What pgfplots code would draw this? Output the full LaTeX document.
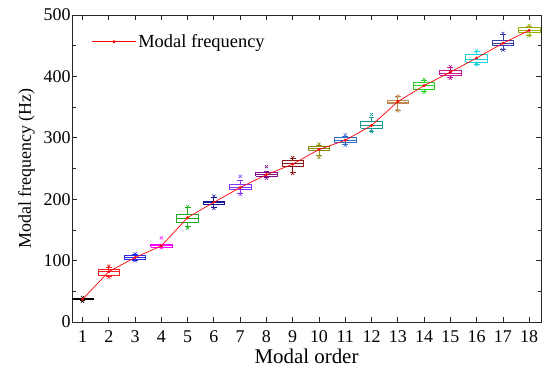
\documentclass[border=0pt]{standalone}
\usepackage{pgfplots}
\pgfplotsset{compat=1.18}
\usepackage{fontspec}
\setmainfont{Liberation Serif}

\definecolor{c1}{RGB}{0,0,0}
\definecolor{c2}{RGB}{255,30,30}
\definecolor{c3}{RGB}{40,40,235}
\definecolor{c4}{RGB}{255,0,255}
\definecolor{c5}{RGB}{30,170,30}
\definecolor{c6}{RGB}{20,20,150}
\definecolor{c7}{RGB}{140,50,255}
\definecolor{c8}{RGB}{130,10,140}
\definecolor{c9}{RGB}{140,25,25}
\definecolor{c10}{RGB}{140,140,10}
\definecolor{c11}{RGB}{50,110,200}
\definecolor{c12}{RGB}{20,150,150}
\definecolor{c13}{RGB}{190,135,80}
\definecolor{c14}{RGB}{40,210,40}
\definecolor{c15}{RGB}{200,20,150}
\definecolor{c16}{RGB}{20,210,215}
\definecolor{c17}{RGB}{60,60,175}
\definecolor{c18}{RGB}{155,175,10}

% one box per modal order:
% #1 position, #2 colour, #3 lower whisker, #4 lower quartile, #5 median,
% #6 upper quartile, #7 upper whisker, #8 lowest sample, #9 highest sample
\newcommand{\modebox}[9]{%
  \pgfmathsetmacro\bxl{#1-0.41}\pgfmathsetmacro\bxr{#1+0.41}%
  \pgfmathsetmacro\wxl{#1-0.11}\pgfmathsetmacro\wxr{#1+0.11}%
  \addplot[forget plot, draw=#2, fill=white, line width=0.8pt, mark=none]
    coordinates {(\bxl,#4) (\bxr,#4) (\bxr,#6) (\bxl,#6) (\bxl,#4)};
  \addplot[forget plot, draw=#2, line width=0.8pt, mark=none]
    coordinates {(\bxl,#5) (\bxr,#5)};
  \addplot[forget plot, draw=#2, line width=0.8pt, mark=none]
    coordinates {(#1,#3) (#1,#4)};
  \addplot[forget plot, draw=#2, line width=0.8pt, mark=none]
    coordinates {(#1,#6) (#1,#7)};
  \addplot[forget plot, draw=#2, line width=0.8pt, mark=none]
    coordinates {(\wxl,#3) (\wxr,#3)};
  \addplot[forget plot, draw=#2, line width=0.8pt, mark=none]
    coordinates {(\wxl,#7) (\wxr,#7)};
  \addplot[forget plot, only marks, mark=x, mark size=2.2pt,
    mark options={draw=#2, line width=0.6pt}]
    coordinates {(#1,#8) (#1,#9)};}

\begin{document}
\begin{tikzpicture}
\useasboundingbox (0bp,0bp) rectangle (545bp,373bp);
\begin{axis}[
  at={(72bp,51bp)}, anchor=south west,
  scale only axis, width=469bp, height=307bp,
  xmin=0.6, xmax=18.45, ymin=0, ymax=500,
  xtick={1,...,18}, ytick={0,100,...,500},
  minor y tick num=1,
  tick align=inside,
  major tick length=5bp, minor tick length=3.5bp,
  axis line style={line width=0.8pt, black!85},
  every tick/.style={black!85, line width=0.8pt},
  /pgf/number format/assume math mode=true,
  ticklabel style={font=\fontsize{18}{18}\selectfont},
  xticklabel style={yshift=-5bp},
  yticklabel style={xshift=2bp},
  xlabel={Modal order},
  ylabel={Modal frequency (Hz)},
  xlabel style={font=\fontsize{21}{21}\selectfont},
  ylabel style={font=\fontsize{18}{18}\selectfont, yshift=2bp},
  legend style={at={(0.035,0.95)}, anchor=north west, draw=none, fill=none,
    font=\fontsize{18.5}{19}\selectfont},
  legend cell align=left,
  legend image code/.code={%
    \draw[#1, mark repeat=2, mark phase=2]
      plot coordinates {(0bp,0bp) (22bp,0bp) (44bp,0bp)};},
]
\modebox{1}{c1}{35}{36}{37}{38}{39}{34}{40}
\modebox{2}{c2}{75}{76}{82}{86}{89}{73}{91}
\modebox{3}{c3}{101}{102}{105}{109}{110}{100}{111}
\modebox{4}{c4}{122}{122}{124}{126}{127}{121}{137}
\modebox{5}{c5}{155}{162}{168}{176}{186}{153}{188}
\modebox{6}{c6}{187}{192}{194}{197}{203}{185}{205}
\modebox{7}{c7}{210}{216}{219}{224}{230}{208}{237}
\modebox{8}{c8}{235}{237}{240}{243}{245}{234}{253}
\modebox{9}{c9}{243}{253}{258}{263}{267}{242}{268}
\modebox{10}{c10}{272}{279}{282}{285.5}{287}{268}{290}
\modebox{11}{c11}{289}{292}{296}{301}{303}{288}{305}
\modebox{12}{c12}{311}{316}{320}{326}{333}{310}{338}
\modebox{13}{c13}{345}{356}{358}{361.5}{367}{344}{368}
\modebox{14}{c14}{375}{379}{385}{390}{393}{374}{395}
\modebox{15}{c15}{398}{402}{405}{410}{414}{397}{416}
\modebox{16}{c16}{420}{423}{428}{436}{440}{419}{442}
\modebox{17}{c17}{444}{451}{454}{458}{469}{443}{470}
\modebox{18}{c18}{467}{472}{475}{479}{482}{466}{483}

% mean frequency of each mode
\addplot[red, line width=0.7pt, mark=*, mark size=1.1pt] coordinates {
  (1,37) (2,82) (3,105) (4,124) (5,170) (6,195) (7,219) (8,240) (9,257)
  (10,281) (11,296) (12,320) (13,359) (14,385) (15,407) (16,430) (17,454) (18,475)
};
\addlegendentry{Modal frequency}
\end{axis}
\end{tikzpicture}
\end{document}
